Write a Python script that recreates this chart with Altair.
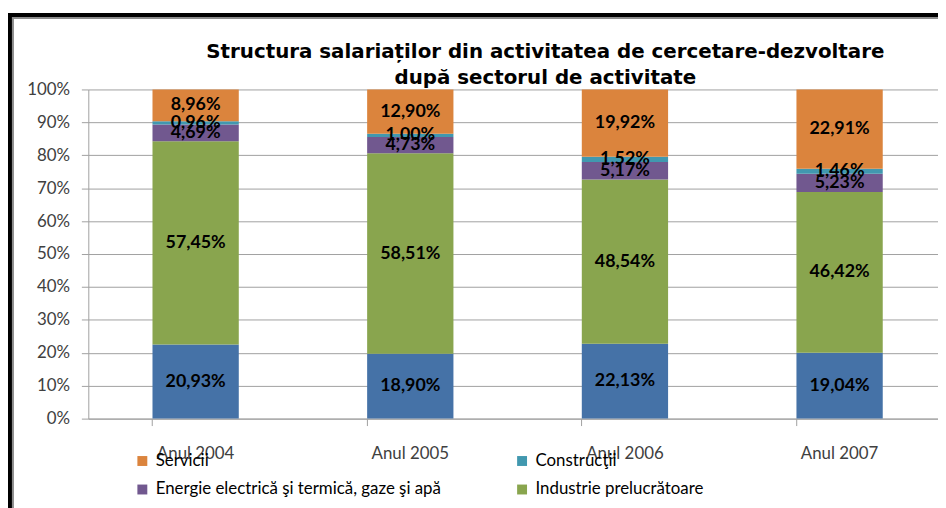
import altair as alt
import pandas as pd

years = ["Anul 2004", "Anul 2005", "Anul 2006", "Anul 2007"]
# stacking order: bottom -> top
sectors = [
    "Agricultură, vânătoare și silvicultură",
    "Industrie prelucrătoare",
    "Energie electrică şi termică, gaze şi apă",
    "Construcţii",
    "Servicii",
]
colors = ["#4572A7", "#89A54E", "#71588F", "#4198AF", "#DB843D"]
values = {
    "Agricultură, vânătoare și silvicultură": [20.93, 18.90, 22.13, 19.04],
    "Industrie prelucrătoare": [57.45, 58.51, 48.54, 46.42],
    "Energie electrică şi termică, gaze şi apă": [4.69, 4.73, 5.17, 5.23],
    "Construcţii": [0.96, 1.00, 1.52, 1.46],
    "Servicii": [8.96, 12.90, 19.92, 22.91],
}
legend_order = ["Servicii", "Construcţii", "Energie electrică şi termică, gaze şi apă",
                "Industrie prelucrătoare", "Agricultură, vânătoare și silvicultură"]
title_lines = ["Structura salariaților din activitatea de cercetare-dezvoltare",
               "după sectorul de activitate"]
y_ticks = [0.0, 0.1, 0.2, 0.3, 0.4, 0.5, 0.6, 0.7, 0.8, 0.9, 1.0]

rows = []
for si, s in enumerate(sectors):
    for yi, y in enumerate(years):
        v = values[s][yi]
        rows.append({"year": y, "sector": s, "order": si, "value": v,
                     "label": f"{v:.2f}".replace(".", ",") + "%"})
df = pd.DataFrame(rows)
one = pd.DataFrame({"k": [0]})

FONT = "Lato"
base = alt.Chart(df).transform_stack(
    stack="value", groupby=["year"], as_=["v0", "v1"], offset="normalize",
    sort=[alt.SortField("order", order="ascending")]
).transform_calculate(mid="(datum.v0 + datum.v1) / 2")

xscale = alt.Scale(range=[0, 866], paddingInner=0.598, paddingOuter=0.299)
yscale = alt.Scale(domain=[0, 1], nice=False)
xaxis = alt.Axis(labelAngle=0, labelFont=FONT, labelFontSize=17, labelColor="#404040",
                 domainColor="#a0a0a0", tickColor="#a0a0a0", tickSize=7,
                 bandPosition=0, labelPadding=20, grid=False)
yaxis = alt.Axis(format=".0%", values=y_ticks, labelOverlap=False,
                 labelFont=FONT, labelFontSize=17, labelColor="#404040",
                 domainColor="#a0a0a0", tickColor="#a0a0a0", tickSize=7,
                 gridColor="#a0a0a0", labelPadding=12)

bars = base.mark_bar().encode(
    x=alt.X("year:N", sort=years, title=None, scale=xscale, axis=xaxis),
    y=alt.Y("v0:Q", title=None, scale=yscale, axis=yaxis),
    y2="v1:Q",
    color=alt.Color("sector:N", scale=alt.Scale(domain=legend_order,
                    range=[colors[sectors.index(s)] for s in legend_order]),
                    legend=alt.Legend(title=None, orient="none", legendX=46, legendY=366,
                                      direction="horizontal", columns=2, columnPadding=73,
                                      rowPadding=11, symbolType="square", symbolSize=100,
                                      symbolStrokeWidth=0, labelFont=FONT, labelFontSize=17,
                                      labelOffset=5,
                                      labelColor="#000000", labelLimit=400)),
)

labels = base.mark_text(font=FONT, fontSize=18, fontWeight="bold", color="#000000").encode(
    x=alt.X("year:N", sort=years, title=None, scale=xscale, axis=xaxis),
    y=alt.Y("mid:Q", title=None, scale=yscale, axis=yaxis),
    text="label:N",
)

frame_left = alt.Chart(one).mark_rule(color="#000000", strokeWidth=4).encode(
    x=alt.value(-79), y=alt.value(-77), y2=alt.value(430))
frame_left_in = alt.Chart(one).mark_rule(color="#8c8c8c", strokeWidth=2).encode(
    x=alt.value(-76), y=alt.value(-73), y2=alt.value(430))
frame_top = alt.Chart(one).mark_rule(color="#000000", strokeWidth=4).encode(
    y=alt.value(-75), x=alt.value(-81), x2=alt.value(870))
frame_top_in = alt.Chart(one).mark_rule(color="#8c8c8c", strokeWidth=2).encode(
    y=alt.value(-72), x=alt.value(-77), x2=alt.value(870))
caption = alt.Chart(one).mark_text(font="Liberation Serif", fontSize=22, fontWeight="bold",
                                   baseline="alphabetic", color="#000000").encode(
    x=alt.value(391), y=alt.value(-82), text=alt.value("Graficul 6"))
title1 = alt.Chart(one).mark_text(font="DejaVu Sans", fontSize=20, fontWeight="bold",
                                  baseline="middle", color="#000000").encode(
    x=alt.value(461), y=alt.value(-38), text=alt.value(title_lines[0]))
title2 = alt.Chart(one).mark_text(font="DejaVu Sans", fontSize=20, fontWeight="bold",
                                  baseline="middle", color="#000000").encode(
    x=alt.value(461), y=alt.value(-11), text=alt.value(title_lines[1]))

chart = alt.layer(bars, labels, frame_left, frame_left_in, frame_top, frame_top_in,
                  caption, title1, title2).properties(
    width=857, height=332,
    autosize=alt.AutoSizeParams(type="none"),
    padding={"left": 81, "top": 80, "right": 0, "bottom": 88},
).configure_view(stroke=None).configure_axis(gridWidth=1)

chart.save("out.html", embed_options={"renderer": "svg", "actions": False})
